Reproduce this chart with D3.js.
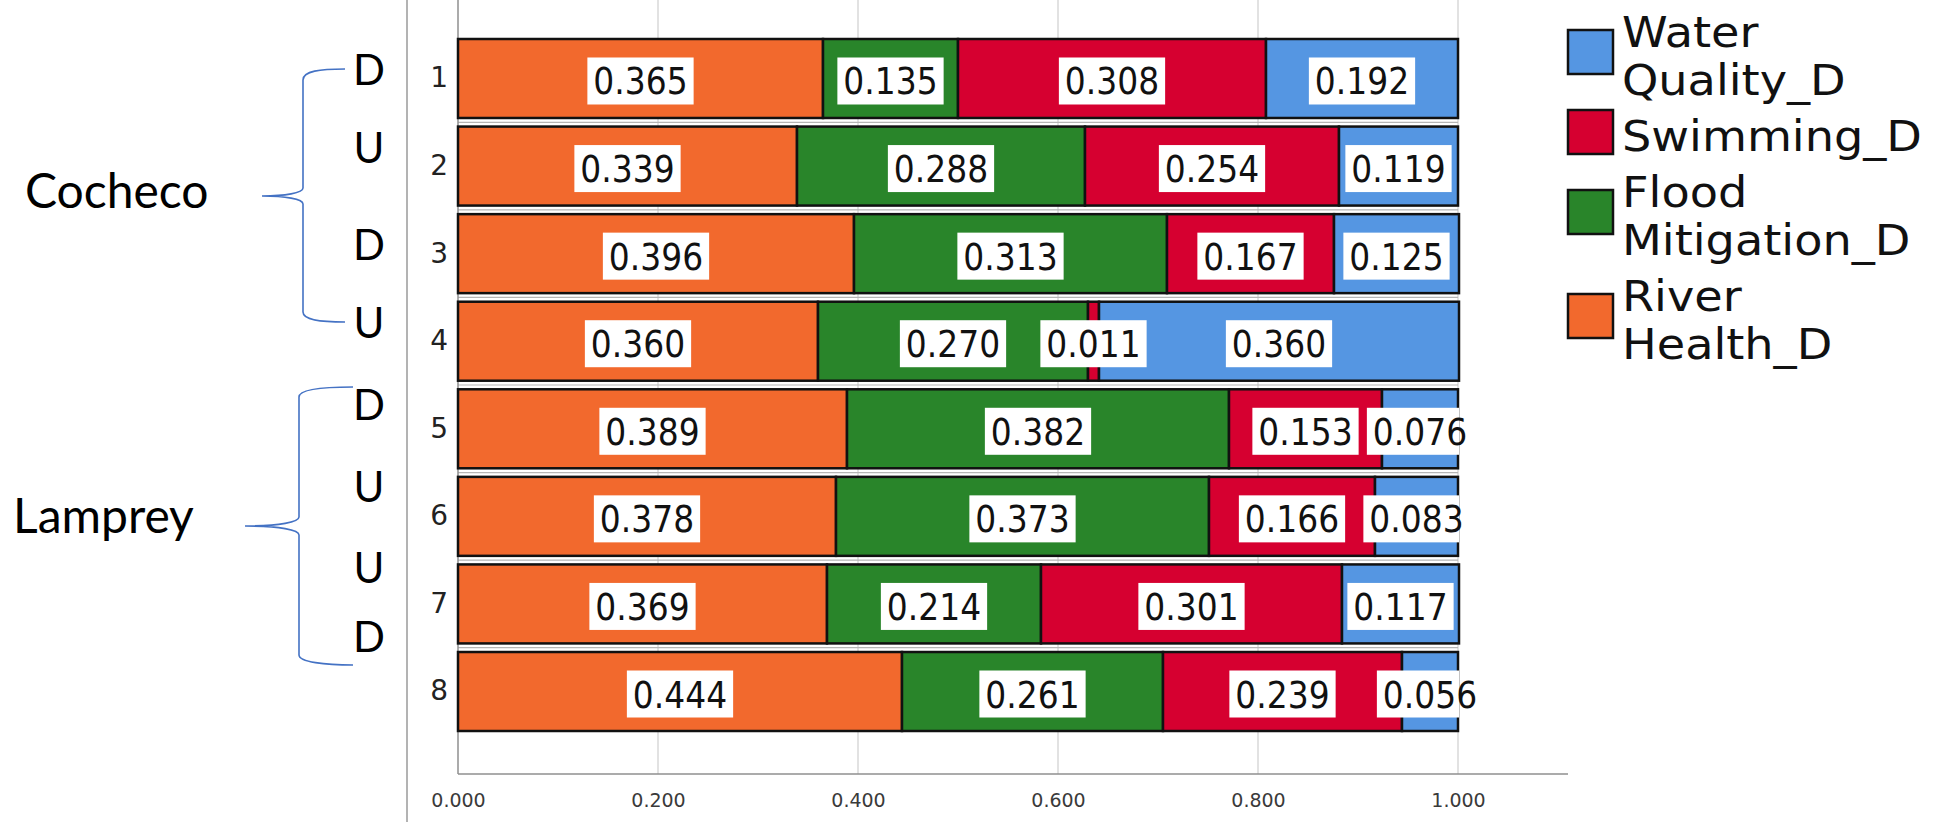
<!DOCTYPE html>
<html>
<head>
<meta charset="utf-8">
<script src="https://cdn.jsdelivr.net/npm/d3@7"></script>
<style>
    body { margin: 0; background: #ffffff; }
    svg  { display: block; }
    .tick text { font-family: 'DejaVu Sans', sans-serif; }
</style>
</head>
<body>
<div id="graph"></div>
<script>
// Data (one value per row, rows 1..8)
var rowLabels       = ['1', '2', '3', '4', '5', '6', '7', '8'];
var riverHealth     = [0.365, 0.339, 0.396, 0.360, 0.389, 0.378, 0.369, 0.444];
var floodMitigation = [0.135, 0.288, 0.313, 0.270, 0.382, 0.373, 0.214, 0.261];
var swimming        = [0.308, 0.254, 0.167, 0.011, 0.153, 0.166, 0.301, 0.239];
var waterQuality    = [0.192, 0.119, 0.125, 0.360, 0.076, 0.083, 0.117, 0.056];

var seriesKeys   = ['River Health_D', 'Flood Mitigation_D', 'Swimming_D', 'Water Quality_D'];
var seriesColors = ['#f2692d', '#29852a', '#d60030', '#5596e2'];
var xTicks       = [0, 0.2, 0.4, 0.6, 0.8, 1.0];

// Annotations on the left
var rowTags    = ['D', 'U', 'D', 'U', 'D', 'U', 'U', 'D'];
var tagY       = [85, 163, 260, 338, 420, 502, 583, 652];
var groupNames = ['Cocheco', 'Lamprey'];


function D3SVGApp ()
{
    var W = 1933, H = 822;

    var svg = d3.select ('div#graph')
                .append ('svg')
                .attr ('width', W)
                .attr ('height', H);

    var xScale = d3.scaleLinear ()
                   .domain ([0, 1])
                   .range ([458, 1458]);

    var yScale = d3.scaleBand ()
                   .domain (rowLabels)
                   .range ([39, 731])
                   .paddingInner (0.098)
                   .paddingOuter (0);

    var axisY = 774;

    // table for the stack
    var table = rowLabels.map (function (r, i)
    {
        var o = { row: r };
        o[seriesKeys[0]] = riverHealth[i];
        o[seriesKeys[1]] = floodMitigation[i];
        o[seriesKeys[2]] = swimming[i];
        o[seriesKeys[3]] = waterQuality[i];
        return o;
    });

    var stacked = d3.stack ().keys (seriesKeys) (table);

    // separator line left of the chart
    svg.append ('line')
       .attr ('x1', 407).attr ('x2', 407)
       .attr ('y1', 0).attr ('y2', H)
       .attr ('stroke', '#9a9a9a')
       .attr ('stroke-width', 1.5);

    // gridlines
    svg.append ('g')
       .selectAll ('line')
       .data (xTicks.slice (1))
       .join ('line')
       .attr ('x1', function (d) { return xScale (d); })
       .attr ('x2', function (d) { return xScale (d); })
       .attr ('y1', 0)
       .attr ('y2', axisY)
       .attr ('stroke', '#cfcfcf')
       .attr ('stroke-width', 1.2);

    // thin grey lines in the gaps between rows
    svg.append ('g')
       .selectAll ('line')
       .data (rowLabels.slice (1))
       .join ('line')
       .attr ('x1', xScale (0))
       .attr ('x2', xScale (1))
       .attr ('y1', function (d) { return yScale (d) - (yScale.step () - yScale.bandwidth ()) / 2; })
       .attr ('y2', function (d) { return yScale (d) - (yScale.step () - yScale.bandwidth ()) / 2; })
       .attr ('stroke', '#b5b5b5')
       .attr ('stroke-width', 1.2);

    // x axis
    var xAxis = d3.axisBottom (xScale)
                  .tickValues (xTicks)
                  .tickFormat (d3.format ('.3f'))
                  .tickSize (0)
                  .tickPadding (20);

    var gx = svg.append ('g')
                .attr ('transform', 'translate(0,' + axisY + ')')
                .call (xAxis);
    gx.select ('.domain').remove ();
    gx.selectAll ('text')
      .attr ('font-size', 19)
      .attr ('fill', '#3a3a3a');

    svg.append ('line')
       .attr ('x1', xScale (0)).attr ('x2', 1568)
       .attr ('y1', axisY).attr ('y2', axisY)
       .attr ('stroke', '#8f8f8f')
       .attr ('stroke-width', 1.5);

    svg.append ('line')
       .attr ('x1', xScale (0)).attr ('x2', xScale (0))
       .attr ('y1', 0).attr ('y2', axisY)
       .attr ('stroke', '#8f8f8f')
       .attr ('stroke-width', 1.5);

    // y axis labels
    var yAxis = d3.axisLeft (yScale)
                  .tickSize (0)
                  .tickPadding (10);

    var gy = svg.append ('g')
                .attr ('transform', 'translate(' + xScale (0) + ',0)')
                .call (yAxis);
    gy.select ('.domain').remove ();
    gy.selectAll ('text')
      .attr ('font-size', 28)
      .attr ('fill', '#222');

    // bars
    var layers = svg.append ('g')
                    .selectAll ('g')
                    .data (stacked)
                    .join ('g')
                    .attr ('fill', function (d, i) { return seriesColors[i]; });

    layers.selectAll ('rect')
          .data (function (d) { return d; })
          .join ('rect')
          .attr ('x', function (d) { return xScale (d[0]); })
          .attr ('y', function (d) { return yScale (d.data.row); })
          .attr ('width', function (d) { return xScale (d[1]) - xScale (d[0]); })
          .attr ('height', yScale.bandwidth ())
          .attr ('stroke', '#111')
          .attr ('stroke-width', 2.5);

    // value labels (boxes are clipped at 1.0)
    svg.append ('clipPath')
       .attr ('id', 'plotClip')
       .append ('rect')
       .attr ('x', 0).attr ('y', 0)
       .attr ('width', xScale (1) + 1)
       .attr ('height', H);

    var fmt = d3.format ('.3f');
    var labelData = [];
    stacked.forEach (function (s)
    {
        s.forEach (function (d)
        {
            labelData.push ({ x: (xScale (d[0]) + xScale (d[1])) / 2,
                              y: yScale (d.data.row) + yScale.bandwidth () / 2,
                              v: d[1] - d[0] });
        });
    });

    var boxLayer  = svg.append ('g').attr ('clip-path', 'url(#plotClip)');
    var textLayer = svg.append ('g');

    labelData.forEach (function (d)
    {
        var t = textLayer.append ('text')
                         .attr ('transform', 'translate(' + d.x + ',' + (d.y + 16) + ') scale(0.89,1)')
                         .attr ('text-anchor', 'middle')
                         .attr ('font-family', 'DejaVu Sans, sans-serif')
                         .attr ('font-size', 37)
                         .attr ('fill', '#111')
                         .text (fmt (d.v));

        var w = t.node ().getBBox ().width * 0.89 + 12;

        boxLayer.append ('rect')
                .attr ('x', d.x - w / 2)
                .attr ('y', d.y - 21)
                .attr ('width', w)
                .attr ('height', 47)
                .attr ('fill', '#ffffff');
    });

    // legend
    var legendItems = seriesKeys.map (function (k, i) { return { lines: k.split (' '), color: seriesColors[i] }; })
                                .reverse ();
    var lineStep = 48, itemGap = 56;
    var base = 47;

    legendItems.forEach (function (item)
    {
        var first = base;
        item.lines.forEach (function (ln, j)
        {
            svg.append ('text')
               .attr ('transform', 'translate(1622,' + base + ') scale(1.1,1)')
               .attr ('font-family', 'DejaVu Sans, sans-serif')
               .attr ('font-size', 42)
               .attr ('fill', '#111')
               .text (ln);
            if (j < item.lines.length - 1)
                base += lineStep;
        });
        var mid = (first - 30 + base) / 2 - 4;

        svg.append ('rect')
           .attr ('x', 1568)
           .attr ('y', mid - 22)
           .attr ('width', 45)
           .attr ('height', 44)
           .attr ('fill', item.color)
           .attr ('stroke', '#111')
           .attr ('stroke-width', 2.5);

        base += itemGap;
    });

    // left-hand annotations
    svg.append ('g')
       .selectAll ('text')
       .data (rowTags)
       .join ('text')
       .attr ('x', 369)
       .attr ('y', function (d, i) { return tagY[i]; })
       .attr ('text-anchor', 'middle')
       .attr ('font-family', 'Lato, sans-serif')
       .attr ('font-size', 42)
       .attr ('fill', '#000')
       .text (function (d) { return d; });

    svg.append ('text')
       .attr ('x', 25).attr ('y', 208)
       .attr ('font-family', 'Lato, sans-serif')
       .attr ('font-size', 48)
       .attr ('fill', '#000')
       .text (groupNames[0]);

    svg.append ('text')
       .attr ('x', 13).attr ('y', 533)
       .attr ('font-family', 'Lato, sans-serif')
       .attr ('font-size', 48)
       .attr ('fill', '#000')
       .text (groupNames[1]);

    var braces = [
        'M345,69 C320,69 303,71 303,80 L303,188 C303,193 285,196 262,196 C285,196 303,199 303,204 L303,312 C303,320 320,322 345,322',
        'M353,387 C325,387 299,389 299,397 L299,517 C299,522 280,526 245,526 C280,526 299,530 299,535 L299,655 C299,662 325,665 353,665'
    ];

    svg.append ('g')
       .selectAll ('path')
       .data (braces)
       .join ('path')
       .attr ('d', function (d) { return d; })
       .attr ('fill', 'none')
       .attr ('stroke', '#4472c4')
       .attr ('stroke-width', 1.6);
}

D3SVGApp ();
</script>
</body>
</html>
